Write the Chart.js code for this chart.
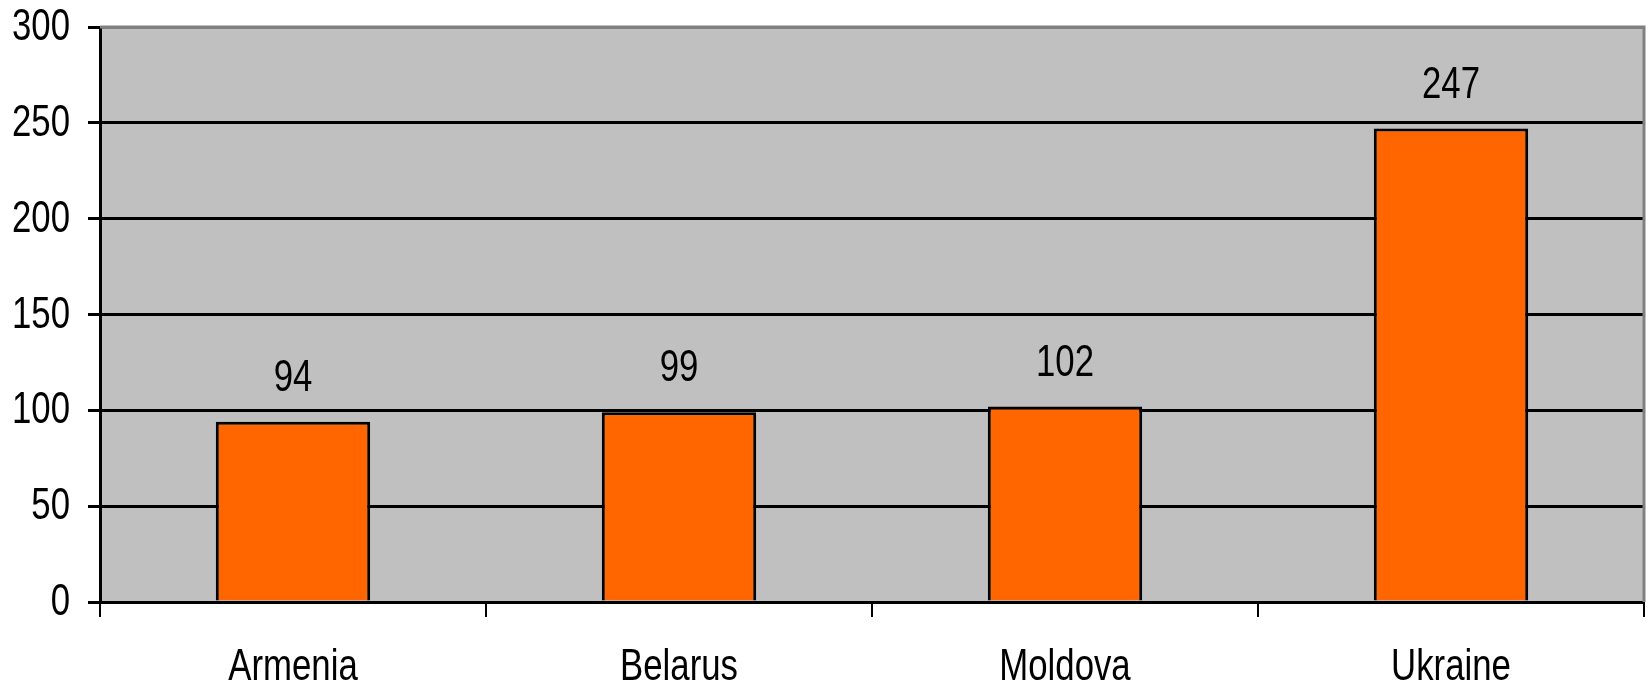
<!DOCTYPE html>
<html>
<head>
<meta charset="utf-8">
<script src="https://cdn.jsdelivr.net/npm/chart.js@4/dist/chart.umd.min.js"></script>
<style>
  html, body { margin: 0; padding: 0; background: #fff; }
  #wrap { width: 1649px; height: 686px; }
</style>
</head>
<body>
<div id="wrap"><canvas id="chart"></canvas></div>
<script>
// chart data
const countries = ["Armenia", "Belarus", "Moldova", "Ukraine"];
const values = [94, 99, 102, 247];
const yTicks = [0, 50, 100, 150, 200, 250, 300];

const FONT = "44px 'Liberation Sans', Arial, sans-serif";
const SQUEEZE = 0.79; // the original labels are a narrow face

// draws text squeezed horizontally, anchored like textAlign says
function narrowText(ctx, text, x, y, align, baseline) {
  ctx.save();
  ctx.font = FONT;
  ctx.fillStyle = "#000";
  ctx.textAlign = align;
  ctx.textBaseline = baseline;
  ctx.translate(x, y);
  ctx.scale(SQUEEZE, 1);
  ctx.fillText(text, 0, 0);
  ctx.restore();
}

// grey plot background + grey frame on top/right
const plotFrame = {
  id: "plotFrame",
  beforeDraw(chart) {
    const { ctx, chartArea: a } = chart;
    ctx.save();
    ctx.fillStyle = "#c0c0c0";
    ctx.fillRect(a.left, a.top, a.right - a.left, a.bottom - a.top);
    ctx.restore();
  },
  afterDatasetsDraw(chart) {
    const { ctx, chartArea: a } = chart;
    ctx.save();
    ctx.strokeStyle = "#808080";
    ctx.lineWidth = 3;
    ctx.beginPath();
    ctx.moveTo(a.left, a.top);
    ctx.lineTo(a.right, a.top);
    ctx.lineTo(a.right, a.bottom);
    ctx.stroke();
    ctx.restore();
  }
};

// tick labels and value labels
const textLabels = {
  id: "textLabels",
  afterDraw(chart) {
    const { ctx, scales } = chart;
    yTicks.forEach(v => {
      narrowText(ctx, String(v), 70, scales.y.getPixelForValue(v) + 1, "right", "middle");
    });
    countries.forEach((c, i) => {
      narrowText(ctx, c, scales.x.getPixelForValue(i), 680, "center", "alphabetic");
    });
    chart.getDatasetMeta(0).data.forEach((bar, i) => {
      narrowText(ctx, String(values[i]), bar.x, bar.y - 31, "center", "alphabetic");
    });
  }
};

new Chart(document.getElementById("chart"), {
  type: "bar",
  data: {
    labels: countries,
    datasets: [{
      data: values,
      backgroundColor: "#ff6600",
      borderColor: "#000",
      borderWidth: 3,
      categoryPercentage: 0.4,
      barPercentage: 1.0
    }]
  },
  options: {
    responsive: true,
    maintainAspectRatio: false,
    animation: false,
    layout: { padding: { top: 27, right: 5, left: 0, bottom: 0 } },
    plugins: {
      legend: { display: false },
      tooltip: { enabled: false }
    },
    scales: {
      x: {
        offset: true,
        grid: {
          offset: true,
          drawOnChartArea: false,
          color: "#000",
          lineWidth: 2,
          tickLength: 15
        },
        border: { color: "#000", width: 3 },
        ticks: { display: false },
        afterFit(scale) { scale.height = 84; }
      },
      y: {
        min: 0,
        max: 300,
        afterBuildTicks(scale) {
          scale.ticks = yTicks.map(v => ({ value: v }));
        },
        grid: {
          color: (c) => c.tick && c.tick.value === 300 ? "#808080" : "#000",
          lineWidth: 3,
          tickColor: "#000",
          tickLength: 12
        },
        border: { color: "#000", width: 3 },
        ticks: { display: false },
        afterFit(scale) { scale.width = 100; }
      }
    }
  },
  plugins: [plotFrame, textLabels]
});
</script>
</body>
</html>
